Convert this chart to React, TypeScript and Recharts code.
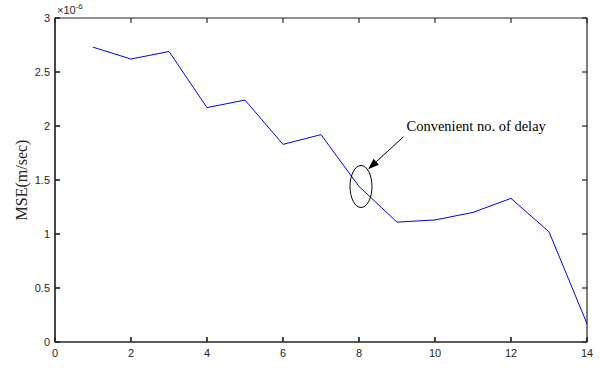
import { LineChart, Line, XAxis, YAxis, ReferenceDot, ReferenceLine, ReferenceArea } from 'recharts';

// delay index vs. MSE (values in units of 1e-6)
const delays = [1, 2, 3, 4, 5, 6, 7, 8, 9, 10, 11, 12, 13, 14];
const mseE6 = [2.73, 2.62, 2.69, 2.17, 2.24, 1.83, 1.92, 1.44, 1.11, 1.13, 1.2, 1.33, 1.02, 0.17];
const xTicks = [0, 2, 4, 6, 8, 10, 12, 14];
const yTicks = [0, 0.5, 1, 1.5, 2, 2.5, 3];

// annotation
const markedDelay = 8;
const noteText = 'Convenient no. of delay';
const arrowFrom = { x: 9.17, y: 1.9 };
const arrowTo = { x: 8.24, y: 1.6 };
const notePos = { x: 9.25, y: 1.95 };

const data = delays.map((d, i) => ({ delay: d, mse: mseE6[i] }));

const axisColor = '#262626';
const sans = '"Liberation Sans", Arial, sans-serif';
const serif = '"Liberation Serif", "Times New Roman", serif';
const tickFont = { fontFamily: sans, fontSize: 11, fill: axisColor };
const TICK = 5; // inward tick length

const Arrow = (props: any) => {
  const { x1, y1, x2, y2 } = props;
  const ang = Math.atan2(y2 - y1, x2 - x1);
  const len = 11;
  const w = 4;
  const bx = x2 - len * Math.cos(ang);
  const by = y2 - len * Math.sin(ang);
  const px = -Math.sin(ang) * w;
  const py = Math.cos(ang) * w;
  return (
    <g>
      <line x1={x1} y1={y1} x2={bx} y2={by} stroke="#000" strokeWidth={1} />
      <polygon points={`${x2},${y2} ${bx + px},${by + py} ${bx - px},${by - py}`} fill="#000" />
    </g>
  );
};

export default function App() {
  const markedValue = mseE6[delays.indexOf(markedDelay)];
  return (
    <div style={{ position: 'absolute', left: 0, top: 0, background: '#fff' }}>
      <LineChart width={600} height={370} data={data} margin={{ top: 18, right: 13, left: 0, bottom: 0 }}>
        <XAxis
          dataKey="delay"
          type="number"
          domain={[0, 14]}
          ticks={xTicks}
          height={28}
          stroke={axisColor}
          strokeWidth={1.2}
          tickSize={-TICK}
          tickMargin={12}
          tick={tickFont}
        />
        <YAxis
          type="number"
          domain={[0, 3]}
          ticks={yTicks}
          width={55}
          stroke={axisColor}
          strokeWidth={1.2}
          tickSize={-TICK}
          tickMargin={10}
          tick={tickFont}
          label={{
            value: 'MSE(m/sec)',
            angle: -90,
            position: 'insideLeft',
            offset: 21,
            style: { fontFamily: serif, fontSize: 16, fill: axisColor, textAnchor: 'middle' },
          }}
        />
        <ReferenceArea
          x1={0}
          x2={14}
          y1={0}
          y2={3}
          ifOverflow="visible"
          fill="none"
          stroke={axisColor}
          strokeWidth={1.2}
        />
        {xTicks.map((t) => (
          <ReferenceLine
            key={'tx' + t}
            x={t}
            ifOverflow="visible"
            shape={(p: any) => (
              <g>
                <path d={`M${p.x1},${Math.max(p.y1, p.y2)}v${-TICK}`} stroke={axisColor} strokeWidth={1.2} />
                <path d={`M${p.x1},${Math.min(p.y1, p.y2)}v${TICK}`} stroke={axisColor} strokeWidth={1.2} />
              </g>
            )}
          />
        ))}
        {yTicks.map((t) => (
          <ReferenceLine
            key={'ty' + t}
            y={t}
            ifOverflow="visible"
            shape={(p: any) => (
              <g>
                <path d={`M${Math.min(p.x1, p.x2)},${p.y1}h${TICK}`} stroke={axisColor} strokeWidth={1.2} />
                <path d={`M${Math.max(p.x1, p.x2)},${p.y1}h${-TICK}`} stroke={axisColor} strokeWidth={1.2} />
              </g>
            )}
          />
        ))}
        <Line
          type="linear"
          dataKey="mse"
          stroke="#0000FF"
          strokeWidth={1}
          dot={false}
          isAnimationActive={false}
        />
        <ReferenceDot
          x={markedDelay}
          y={markedValue}
          shape={(p: any) => (
            <ellipse cx={p.cx + 2} cy={p.cy} rx={11} ry={21} fill="none" stroke="#000" strokeWidth={1} />
          )}
        />
        <ReferenceLine
          segment={[arrowFrom, arrowTo]}
          shape={(p: any) => <Arrow x1={p.x1} y1={p.y1} x2={p.x2} y2={p.y2} />}
        />
        <ReferenceDot
          x={notePos.x}
          y={notePos.y}
          shape={(p: any) => (
            <text x={p.cx} y={p.cy} fontFamily={serif} fontSize={14.5} fill="#000">
              {noteText}
            </text>
          )}
        />
        <text x={57} y={14} fontFamily={sans} fontSize={11} fill={axisColor}>
          ×10
          <tspan dy={-5} fontSize={8}>-6</tspan>
        </text>
      </LineChart>
    </div>
  );
}
